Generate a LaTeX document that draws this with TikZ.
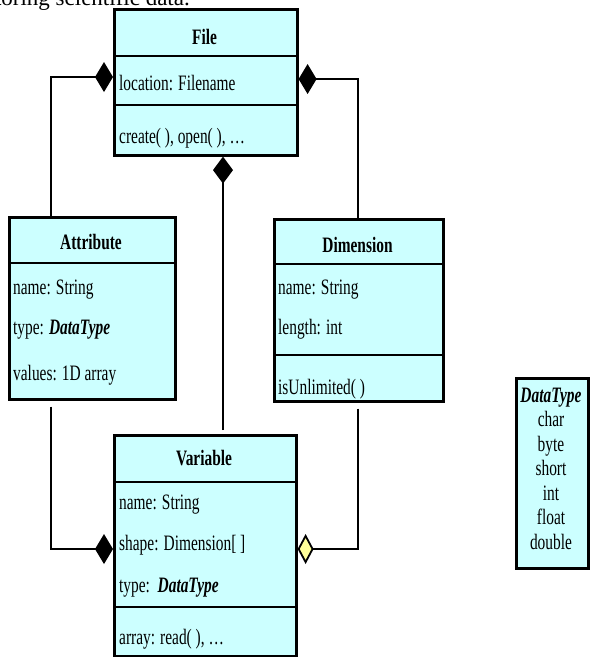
\documentclass[tikz,border=0pt]{standalone}
\usepackage{fontspec}
\setmainfont{Liberation Serif}[FakeStretch=0.7]
\newfontfamily\docfont{Liberation Serif}
\usetikzlibrary{arrows.meta,calc}
\definecolor{boxfill}{RGB}{204,255,255}
\definecolor{dyellow}{RGB}{255,255,153}
\begin{document}
\begin{tikzpicture}[x=1pt,y=-1pt,
  font=\fontsize{22}{26}\selectfont,
  umlbox/.style={draw=black, line width=2.6pt, fill=boxfill, inner sep=0pt, anchor=north west},
  sepline/.style={line width=2.4pt},
  title/.style={font=\fontsize{22}{26}\selectfont\bfseries, inner sep=0pt, anchor=base},
  member/.style={inner sep=0pt, anchor=base west},
  dtrow/.style={inner sep=0pt, anchor=base},
  compo/.style={line width=1.8pt, -{Diamond[length=18pt,width=30pt,fill=black]}},
  compov/.style={line width=1.8pt, -{Diamond[length=27pt,width=20pt,fill=black]}},
  aggr/.style={line width=1.8pt, -{Diamond[length=16pt,width=30pt,fill=dyellow]}}
]
\useasboundingbox (0,0) rectangle (600,657);

% cut-off text line at the top
\node[inner sep=0pt, anchor=base east, font=\docfont\fontsize{23}{27}\selectfont] (topline) at (190,5) {storing scientific data.};

% File
\node[umlbox, minimum width=183pt, minimum height=146pt] (file) at (113,8) {};
\draw[sepline] ($(file.north west)+(0,48)$) -- ($(file.north east)+(0,48)$);
\draw[sepline] ($(file.north west)+(0,97)$) -- ($(file.north east)+(0,97)$);
\node[title] (fileT) at (204.5,44) {File};
\node[member] (fileA) at (119,90) {location: Filename};
\node[member] (fileM) at (119,143) {create( ), open( ), \ldots};

% Attribute
\node[umlbox, minimum width=166pt, minimum height=182pt] (attrbox) at (8,216) {};
\draw[sepline] ($(attrbox.north west)+(0,47)$) -- ($(attrbox.north east)+(0,47)$);
\node[title] (attrT) at (91,249) {Attribute};
\node[member] (attrA1) at (13,294) {name: String};
\node[member] (attrA2) at (13,334) {type: \textbf{\textit{DataType}}};
\node[member] (attrA3) at (13,380) {values: 1D array};

% Dimension
\node[umlbox, minimum width=169pt, minimum height=182pt] (dimbox) at (273,218) {};
\draw[sepline] ($(dimbox.north west)+(0,46)$) -- ($(dimbox.north east)+(0,46)$);
\draw[sepline] ($(dimbox.north west)+(0,137)$) -- ($(dimbox.north east)+(0,137)$);
\node[title] (dimT) at (357.5,252) {Dimension};
\node[member] (dimA1) at (278,294) {name: String};
\node[member] (dimA2) at (278,334) {length: int};
\node[member] (dimM) at (278,394) {isUnlimited( )};

% Variable
\node[umlbox, minimum width=182pt, minimum height=221pt] (var) at (113,434) {};
\draw[sepline] ($(var.north west)+(0,48)$) -- ($(var.north east)+(0,48)$);
\draw[sepline] ($(var.north west)+(0,173)$) -- ($(var.north east)+(0,173)$);
\node[title] (varT) at (204,465) {Variable};
\node[member] (varA1) at (119,509) {name: String};
\node[member] (varA2) at (119,550) {shape: Dimension[ ]};
\node[member] (varA3) at (119,592) {type:\ \ \textbf{\textit{DataType}}};
\node[member] (varM) at (119,644) {array: read( ), \ldots};

% DataType
\node[umlbox, minimum width=72pt, minimum height=190pt] (dt) at (515,377) {};
\node[dtrow, font=\fontsize{22}{26}\selectfont\bfseries\itshape] (dt0) at (551,402) {DataType};
\node[dtrow] (dt1) at (551,426.5) {char};
\node[dtrow] (dt2) at (551,451) {byte};
\node[dtrow] (dt3) at (551,475.5) {short};
\node[dtrow] (dt4) at (551,500) {int};
\node[dtrow] (dt5) at (551,524.5) {float};
\node[dtrow] (dt6) at (551,549) {double};

% connectors
\draw[compo] ($(attrbox.north west)+(43,0)$) |- ($(file.north west)+(0,69)$);
\draw[compo] ($(dimbox.north west)+(85,0)$) |- ($(file.north east)+(0,71)$);
\draw[compov, shorten <=4pt] ($(var.north west)+(110,0)$) -- ($(file.south west)+(110,0)$);
\draw[compo, shorten <=6pt] ($(attrbox.south west)+(43,0)$) |- ($(var.north west)+(0,115)$);
\draw[aggr, shorten <=6pt] ($(dimbox.south west)+(85,0)$) |- ($(var.north east)+(0,115)$);
\end{tikzpicture}
\end{document}
